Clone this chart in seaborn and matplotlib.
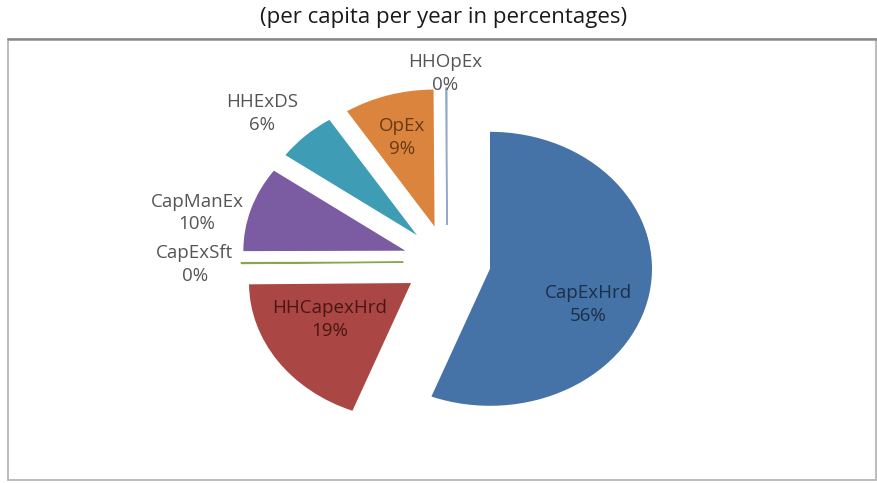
import matplotlib
matplotlib.use("Agg")
import matplotlib.pyplot as plt
from matplotlib.patches import Rectangle
import seaborn as sns

# Cost components, per capita per year
categories = ["CapExHrd", "HHCapexHrd", "CapExSft", "CapManEx", "HHExDS", "OpEx", "HHOpEx"]
shares = [56, 19, 0.1, 10, 6, 9, 0.1]
slice_colors = ["#4572A7", "#AA4643", "#89A54E", "#7B5BA1", "#3E9DB5", "#DB843D", "#92A8CD"]
label_colors = ["#1C2E48", "#4A1614", "#555555", "#555555", "#555555", "#6B3A12", "#555555"]

sns.set_theme(style="white")
plt.rcParams["font.family"] = ["Open Sans", "DejaVu Sans"]

fig = plt.figure(figsize=(8.78, 4.83), dpi=100)
ax = fig.add_axes([0, 0, 1, 1])

wedges, _ = ax.pie(
    shares,
    colors=slice_colors,
    startangle=90,
    counterclock=False,
    explode=[0.27] * len(shares),
    radius=1.0,
    wedgeprops=dict(linewidth=0),
)
# near-zero slices show as hairlines
for w in (wedges[2], wedges[6]):
    w.set_edgecolor(w.get_facecolor())
    w.set_linewidth(1.0)

# stretched pie: wider than tall
ax.set_aspect("auto")
ax.set_xlim(-447 / 162, (878 - 447) / 162)
ax.set_ylim(-(483 - 262) / 137, 262 / 137)
ax.axis("off")

# label anchors (data units)
label_pos = {
    "CapExHrd": (0.87, -0.31),
    "HHCapexHrd": (-0.722, -0.42),
    "CapExSft": (-1.556, -0.018),
    "CapManEx": (-1.543, 0.358),
    "HHExDS": (-1.142, 1.084),
    "OpEx": (-0.278, 0.909),
    "HHOpEx": (-0.012, 1.376),
}
for name, val, col in zip(categories, shares, label_colors):
    x, y = label_pos[name]
    ax.text(x, y, f"{name}\n{round(val):.0f}%", ha="center", va="center",
            fontsize=13.5, color=col, linespacing=1.3)

fig.text(444 / 878, 1 - 18 / 483, "(per capita per year in percentages)",
         ha="center", va="center", fontsize=16, color="#1a1a1a")

# chart frame
fig.patches.append(Rectangle((8 / 878, 3 / 483), 868 / 878, (483 - 3 - 39) / 483,
                             transform=fig.transFigure, fill=False,
                             edgecolor="#b0b0b0", linewidth=1.2))
fig.lines.append(plt.Line2D([8 / 878, 1], [1 - 39 / 483, 1 - 39 / 483],
                            transform=fig.transFigure, color="#8a8a8a", linewidth=1.8))

fig.savefig("out.png", dpi=100, facecolor="white")
